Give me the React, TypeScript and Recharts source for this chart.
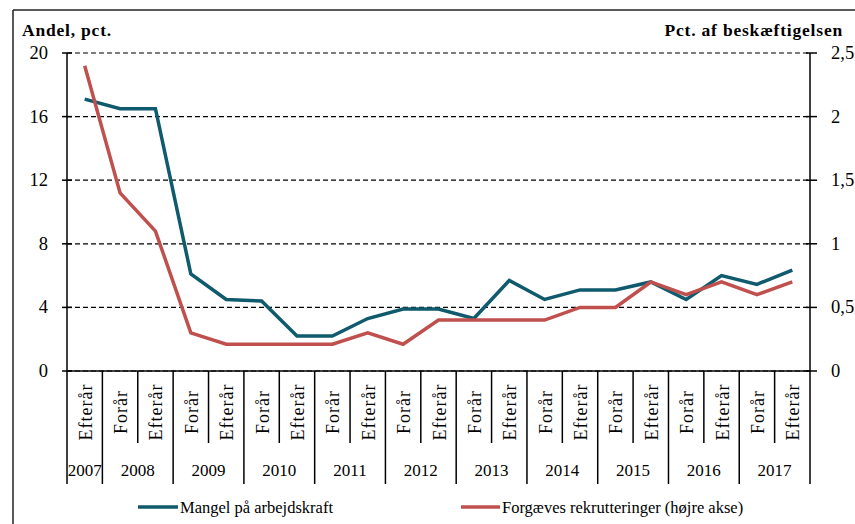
import React from "react";
import { ComposedChart, Line, XAxis, YAxis, CartesianGrid } from "recharts";

const periods = [
  "Efterår",
  "Forår", "Efterår",
  "Forår", "Efterår",
  "Forår", "Efterår",
  "Forår", "Efterår",
  "Forår", "Efterår",
  "Forår", "Efterår",
  "Forår", "Efterår",
  "Forår", "Efterår",
  "Forår", "Efterår",
  "Forår", "Efterår",
];
const years = [
  "2007",
  "2008", "2008",
  "2009", "2009",
  "2010", "2010",
  "2011", "2011",
  "2012", "2012",
  "2013", "2013",
  "2014", "2014",
  "2015", "2015",
  "2016", "2016",
  "2017", "2017",
];
const mangel = [17.1, 16.5, 16.5, 6.1, 4.5, 4.4, 2.2, 2.2, 3.3, 3.9, 3.9, 3.3, 5.7, 4.5, 5.1, 5.1, 5.6, 4.5, 6.0, 5.45, 6.35];
const forgaeves = [2.4, 1.4, 1.1, 0.3, 0.21, 0.21, 0.21, 0.21, 0.3, 0.21, 0.4, 0.4, 0.4, 0.4, 0.5, 0.5, 0.7, 0.6, 0.7, 0.6, 0.7];
const leftTicks = [0, 4, 8, 12, 16, 20];
const rightTicks = [0, 0.5, 1, 1.5, 2, 2.5];
const seriesNames = ["Mangel på arbejdskraft", "Forgæves rekrutteringer (højre akse)"];

const BLUE = "#0F5A6D";
const RED = "#C0504D";
const FONT = "'Liberation Serif', 'Times New Roman', serif";

const data = periods.map((p, i) => ({
  idx: i,
  period: p,
  year: years[i],
  mangel: mangel[i],
  forgaeves: forgaeves[i],
}));

const fmt = (v: number) => String(v).replace(".", ",");

const XTick = (props: any) => {
  const { x, y, payload, index } = props;
  const i = typeof index === "number" ? index : payload.index;
  const half = payload && typeof payload.offset === "number" && payload.offset > 0 ? payload.offset : 17.7;
  const isYearStart = i === 0 || years[i] !== years[i - 1];
  const isLast = i === periods.length - 1;
  let count = 0;
  if (isYearStart) {
    let j = i;
    while (j < years.length && years[j] === years[i]) {
      count++;
      j++;
    }
  }
  const lx = x - half;
  const longLen = 113;
  const shortLen = 72;
  return (
    <g>
      <line x1={lx} x2={lx} y1={y} y2={y + (isYearStart ? longLen : shortLen)} stroke="#000" strokeWidth={1.5} />
      {isLast && (
        <line x1={x + half} x2={x + half} y1={y} y2={y + longLen} stroke="#000" strokeWidth={1.5} />
      )}
      <text
        x={x + 1}
        y={y + 41}
        transform={`rotate(-90, ${x + 1}, ${y + 41})`}
        textAnchor="middle"
        dominantBaseline="central"
        fontFamily={FONT}
        fontSize={18}
        letterSpacing={1}
        fill="#000"
      >
        {periods[i]}
      </text>
      {isYearStart && (
        <text
          x={x + (count - 1) * half}
          y={y + 105}
          textAnchor="middle"
          fontFamily={FONT}
          fontSize={17}
          fill="#000"
        >
          {years[i]}
        </text>
      )}
    </g>
  );
};

const LeftTick = (props: any) => {
  const { x, y, payload } = props;
  const ax = x + 19;
  return (
    <g>
      <line x1={ax - 5} x2={ax + 5} y1={y} y2={y} stroke="#000" strokeWidth={1.5} />
      <text x={x} y={y} textAnchor="end" dominantBaseline="central" fontFamily={FONT} fontSize={18.5} fill="#000">
        {payload.value}
      </text>
    </g>
  );
};

const RightTick = (props: any) => {
  const { x, y, payload } = props;
  const ax = x - 21;
  return (
    <g>
      <line x1={ax - 4} x2={ax + 7} y1={y} y2={y} stroke="#000" strokeWidth={1.5} />
      <text x={x} y={y} textAnchor="start" dominantBaseline="central" fontFamily={FONT} fontSize={18.5} fill="#000">
        {fmt(payload.value)}
      </text>
    </g>
  );
};

export default function App() {
  return (
    <div style={{ position: "absolute", left: 0, top: 0, width: 855, height: 524, background: "#fff" }}>
      <ComposedChart
        width={855}
        height={524}
        data={data}
        margin={{ top: 53, right: 0, left: 0, bottom: 40 }}
      >
        <CartesianGrid vertical={false} stroke="#000" strokeDasharray="5 3" strokeWidth={1.2} yAxisId="left" />
        <XAxis
          dataKey="idx"
          type="category"
          scale="band"
          height={113}
          tickLine={false}
          tickSize={0}
          tickMargin={0}
          axisLine={{ stroke: "#000", strokeWidth: 1.5 }}
          tick={<XTick />}
          interval={0}
        />
        <YAxis
          yAxisId="left"
          orientation="left"
          width={67}
          domain={[0, 20]}
          ticks={leftTicks}
          tickLine={false}
          tickSize={0}
          tickMargin={19}
          axisLine={{ stroke: "#000", strokeWidth: 1.5 }}
          tick={<LeftTick />}
          interval={0}
        />
        <YAxis
          yAxisId="right"
          orientation="right"
          width={45}
          domain={[0, 2.5]}
          ticks={rightTicks}
          tickLine={false}
          tickSize={0}
          tickMargin={21}
          axisLine={{ stroke: "#000", strokeWidth: 1.5 }}
          tick={<RightTick />}
          interval={0}
        />
        <Line
          yAxisId="left"
          type="linear"
          dataKey="mangel"
          name={seriesNames[0]}
          stroke={BLUE}
          strokeWidth={3.5}
          dot={false}
          isAnimationActive={false}
        />
        <Line
          yAxisId="right"
          type="linear"
          dataKey="forgaeves"
          name={seriesNames[1]}
          stroke={RED}
          strokeWidth={3.5}
          dot={false}
          isAnimationActive={false}
        />
        <line x1={13} x2={855} y1={10} y2={10} stroke="#222" strokeWidth={1.5} />
        <line x1={13} x2={13} y1={10} y2={524} stroke="#222" strokeWidth={1.5} />
        <text x={22} y={36} fontFamily={FONT} fontWeight="bold" fontSize={17.5} letterSpacing={0.8} fill="#000">
          Andel, pct.
        </text>
        <text x={843} y={36} textAnchor="end" fontFamily={FONT} fontWeight="bold" fontSize={17.5} letterSpacing={0.8} fill="#000">
          Pct. af beskæftigelsen
        </text>
        <line x1={138} x2={178} y1={507} y2={507} stroke={BLUE} strokeWidth={3.5} />
        <text x={180} y={507} dominantBaseline="central" fontFamily={FONT} fontSize={16.5} fill="#000">
          {seriesNames[0]}
        </text>
        <line x1={461} x2={500} y1={507} y2={507} stroke={RED} strokeWidth={3.5} />
        <text x={502} y={507} dominantBaseline="central" fontFamily={FONT} fontSize={16.5} fill="#000">
          {seriesNames[1]}
        </text>
      </ComposedChart>
    </div>
  );
}
